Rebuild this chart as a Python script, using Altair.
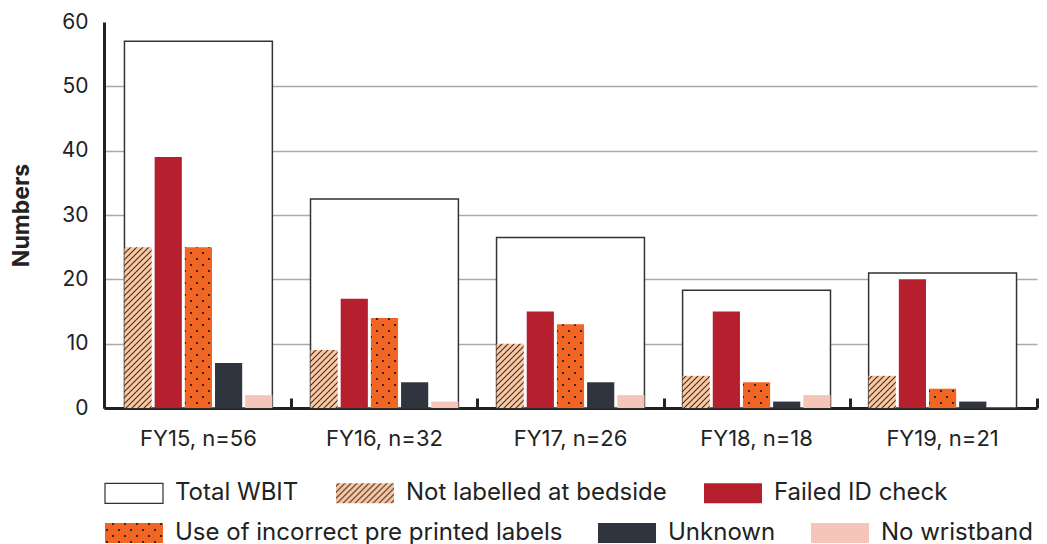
import altair as alt
import pandas as pd
import altair.utils.html as _h

# ---------------- data ----------------
years = ["FY15, n=56", "FY16, n=32", "FY17, n=26", "FY18, n=18", "FY19, n=21"]
total_wbit = [57, 32.5, 26.5, 18.3, 21]
not_labelled = [25, 9, 10, 5, 5]
failed_id = [39, 17, 15, 15, 20]
incorrect_labels = [25, 14, 13, 4, 3]
unknown = [7, 4, 4, 1, 1]
no_wristband = [2, 1, 2, 2, 0]

# legend row 1 and row 2
row1_names = ["Total WBIT", "Not labelled at bedside", "Failed ID check"]
row1_fills = ["white", "url(#hatch)", "#B51F2E"]
row1_strokes = ["#333333", "transparent", "transparent"]
row2_names = ["Use of incorrect pre printed labels", "Unknown", "No wristband"]
row2_fills = ["url(#dots)", "#30343F", "#F5C5B9"]
bar_series = ["Not labelled at bedside", "Failed ID check",
              "Use of incorrect pre printed labels", "Unknown", "No wristband"]

df_total = pd.DataFrame({"year": years, "value": total_wbit, "series": "Total WBIT"})
rows = []
for name, vals in zip(bar_series, [not_labelled, failed_id, incorrect_labels, unknown, no_wristband]):
    for y, v in zip(years, vals):
        rows.append({"year": y, "series": name, "value": v})
df_bars = pd.DataFrame(rows)
df_a = df_bars[df_bars["series"].isin(row1_names)]
df_b = df_bars[df_bars["series"].isin(row2_names)]

# ---------- SVG patterns used as fills ----------
DEFS = '''<svg width="0" height="0" style="position:absolute" aria-hidden="true"><defs>
<pattern id="hatch" patternUnits="userSpaceOnUse" width="6" height="6">
<rect width="6" height="6" fill="#FCC8A1"/>
<path d="M-1,1 l2,-2 M0,6 l6,-6 M5,7 l2,-2" stroke="#3a3030" stroke-width="1.1"/>
</pattern>
<pattern id="dots" patternUnits="userSpaceOnUse" width="12" height="12">
<rect width="12" height="12" fill="#F26522"/>
<rect x="2" y="2" width="2" height="2" fill="#2a2a2a"/>
<rect x="8" y="8" width="2" height="2" fill="#2a2a2a"/>
</pattern>
</defs></svg>'''

_tmpl = _h.TEMPLATES["standard"]
_orig_render = _tmpl.render


def _render(*a, **k):
    html = _orig_render(*a, **k)
    if "<body>" in html:
        return html.replace("<body>", "<body>\n" + DEFS, 1)
    return html.replace("<div", DEFS + "\n<div", 1)


_tmpl.render = _render

FONT = "Inter"
TXT = "#222222"

xscale = alt.Scale(domain=years, paddingInner=0.205, paddingOuter=0.11)
yscale = alt.Scale(domain=[0, 60], nice=False)
xoff = alt.XOffset("series:N", sort=bar_series,
                   scale=alt.Scale(domain=bar_series, paddingInner=0.1, paddingOuter=0))
y_axis = alt.Axis(values=[0, 10, 20, 30, 40, 50, 60], title="Numbers", ticks=False,
                  labelPadding=16, titlePadding=28, titleFontSize=23, titleFontWeight="bold",
                  labelFontSize=21, grid=True, gridColor="#aaaaaa", gridWidth=1.5,
                  gridOpacity={"expr": "datum.value == 60 ? 0 : 1"},
                  domainColor="#222222", domainWidth=3)
y_enc = alt.Y("value:Q", scale=yscale, axis=y_axis)

legend1 = alt.Legend(title=None, orient="none", legendX=0, legendY=441, direction="horizontal")
legend2 = alt.Legend(title=None, orient="none", legendX=0, legendY=481, direction="horizontal")

fill1 = alt.Fill("series:N", scale=alt.Scale(domain=row1_names, range=row1_fills),
                 sort=row1_names, legend=legend1)
stroke1 = alt.Stroke("series:N", scale=alt.Scale(domain=row1_names, range=row1_strokes),
                     sort=row1_names, legend=legend1)
fill2 = alt.Fill("series:N", scale=alt.Scale(domain=row2_names, range=row2_fills),
                 sort=row2_names, legend=legend2)

main_x_axis = alt.Axis(orient="bottom", title=None, labelAngle=0, ticks=False, labelPadding=20,
                       labelFontSize=22, domainColor="#222222", domainWidth=3)
tick_x_axis = alt.Axis(orient="bottom", title=None, labels=False, domain=False, grid=False,
                       ticks=True, tickBand="extent", tickSize=10, offset=-10,
                       tickColor="#222222", tickWidth=3)
x_enc = alt.X("year:N", sort=years, scale=xscale, axis=main_x_axis)

boxes = alt.Chart(df_total).mark_bar(strokeWidth=1.5).encode(
    x=x_enc, y=y_enc, fill=fill1, stroke=stroke1,
)
bars_a = alt.Chart(df_a).mark_bar(strokeWidth=0).encode(
    x=x_enc, xOffset=xoff, y=y_enc, fill=fill1, stroke=stroke1,
)
bars_b = alt.Chart(df_b).mark_bar(strokeWidth=0).encode(
    x=x_enc, xOffset=xoff, y=y_enc, fill=fill2,
)

# invisible layer carrying the category-boundary ticks on a padding-free band scale
tick_layer = alt.Chart(df_total).mark_bar(opacity=0).encode(
    x=alt.X("year:N", sort=years,
            scale=alt.Scale(domain=years, paddingInner=0, paddingOuter=0),
            axis=tick_x_axis),
)

data_layers = alt.layer(alt.layer(boxes, bars_a), bars_b).resolve_scale(
    fill="independent", stroke="independent"
)

chart = alt.layer(data_layers, tick_layer).resolve_scale(
    x="independent"
).properties(
    width=933, height=386,
    autosize=alt.AutoSizeParams(type="none"),
    padding={"left": 96, "top": 14, "right": 2, "bottom": 136},
).configure_view(stroke=None).configure_axis(
    labelFont=FONT, titleFont=FONT, labelColor=TXT, titleColor=TXT,
).configure_legend(
    symbolType="M-1,-0.345 L1,-0.345 L1,0.345 L-1,0.345 Z",
    symbolSize=3364, symbolStrokeWidth=1.2, labelFont=FONT, labelFontSize=24,
    labelColor=TXT, labelOffset=11, labelLimit=1000, columnPadding=34,
    symbolOpacity=1,
)

chart.save("out.html", embed_options={"renderer": "svg", "actions": False})
